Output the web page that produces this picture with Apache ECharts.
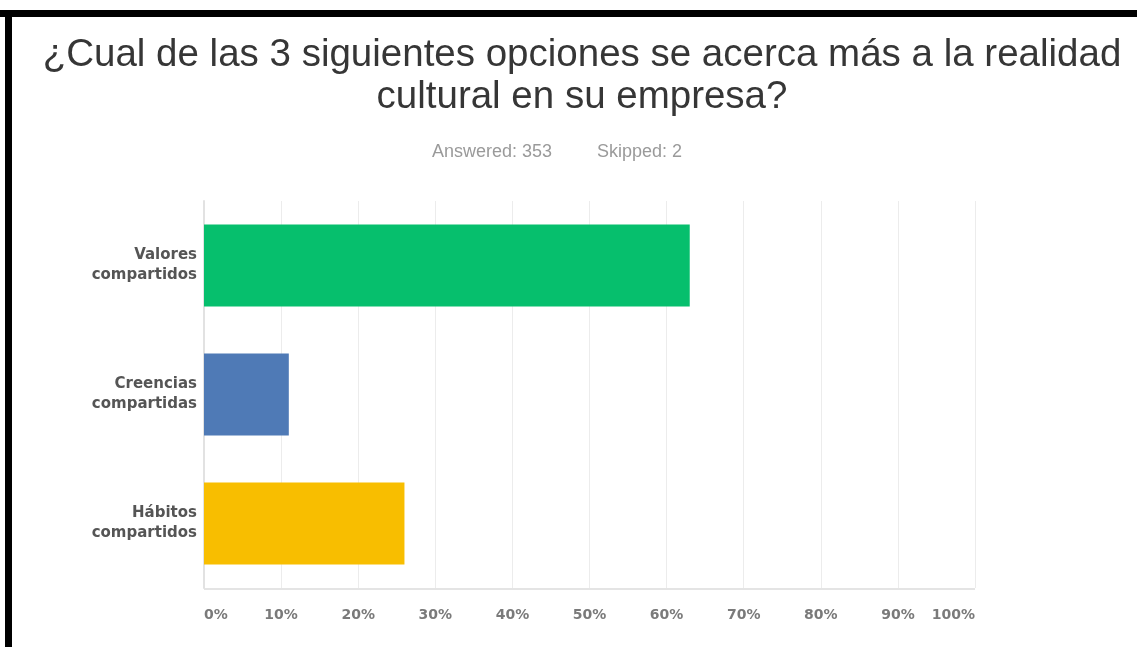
<!DOCTYPE html>
<html>
<head>
<meta charset="utf-8">
<script src="https://cdn.jsdelivr.net/npm/echarts@6/dist/echarts.min.js"></script>
<style>
html,body{margin:0;padding:0;background:#fff;}
#chart{width:1137px;height:647px;}
</style>
</head>
<body>
<div id="chart"></div>
<script>
const categories = ['Valores\ncompartidos', 'Creencias\ncompartidas', 'Hábitos\ncompartidos'];
const values = [63, 11, 26];
const barColors = ['#06bf6d', '#4f7ab6', '#f8be00'];
const tickValues = [0, 10, 20, 30, 40, 50, 60, 70, 80, 90, 100];
const titleText = '¿Cual de las 3 siguientes opciones se acerca más a la realidad\ncultural en su empresa?';
const answeredText = 'Answered: 353';
const skippedText = 'Skipped: 2';

const chart = echarts.init(document.getElementById('chart'));
chart.setOption({
  animation: false,
  backgroundColor: '#ffffff',
  title: {
    text: titleText,
    left: 577,
    textAlign: 'center',
    top: 29,
    textStyle: {
      fontFamily: 'Liberation Sans',
      fontSize: 38.5,
      fontWeight: 'normal',
      color: '#363636',
      lineHeight: 42
    }
  },
  graphic: [
    { type: 'rect', shape: { x: 0, y: 10, width: 1137, height: 7 }, style: { fill: '#000' } },
    { type: 'rect', shape: { x: 5, y: 10, width: 7, height: 637 }, style: { fill: '#000' } },
    { type: 'text', left: 432, top: 143, style: { text: answeredText, font: '18px "Liberation Sans"', fill: '#9a9a9a' } },
    { type: 'text', left: 597, top: 143, style: { text: skippedText, font: '18px "Liberation Sans"', fill: '#9a9a9a' } },
    { type: 'rect', shape: { x: 204, y: 588, width: 771, height: 2 }, style: { fill: '#e4e4e4' }, z: -1 }
  ],
  grid: { left: 204, right: 162, top: 201, bottom: 59, containLabel: false },
  xAxis: {
    type: 'value',
    min: 0,
    max: 100,
    interval: 10,
    axisLine: { show: false },
    axisTick: { show: false },
    splitLine: { show: true, lineStyle: { color: '#ececec', width: 1 } },
    axisLabel: {
      margin: 20,
      formatter: function (v) { return tickValues.indexOf(v) >= 0 ? v + '%' : ''; },
      fontFamily: 'DejaVu Sans',
      fontWeight: 'bold',
      fontSize: 14,
      color: '#7a7a7a',
      alignMinLabel: 'left',
      alignMaxLabel: 'right'
    }
  },
  yAxis: {
    type: 'category',
    inverse: true,
    data: categories,
    axisLine: { show: true, lineStyle: { color: '#e2e2e2', width: 2 } },
    axisTick: { show: false },
    splitLine: { show: false },
    axisLabel: {
      margin: 7,
      fontFamily: 'DejaVu Sans',
      fontWeight: 'bold',
      fontSize: 15,
      lineHeight: 20,
      color: '#555555',
      align: 'right'
    }
  },
  series: [{
    type: 'bar',
    barWidth: 82,
    data: values.map(function (v, i) { return { value: v, itemStyle: { color: barColors[i] } }; })
  }]
});
</script>
</body>
</html>
